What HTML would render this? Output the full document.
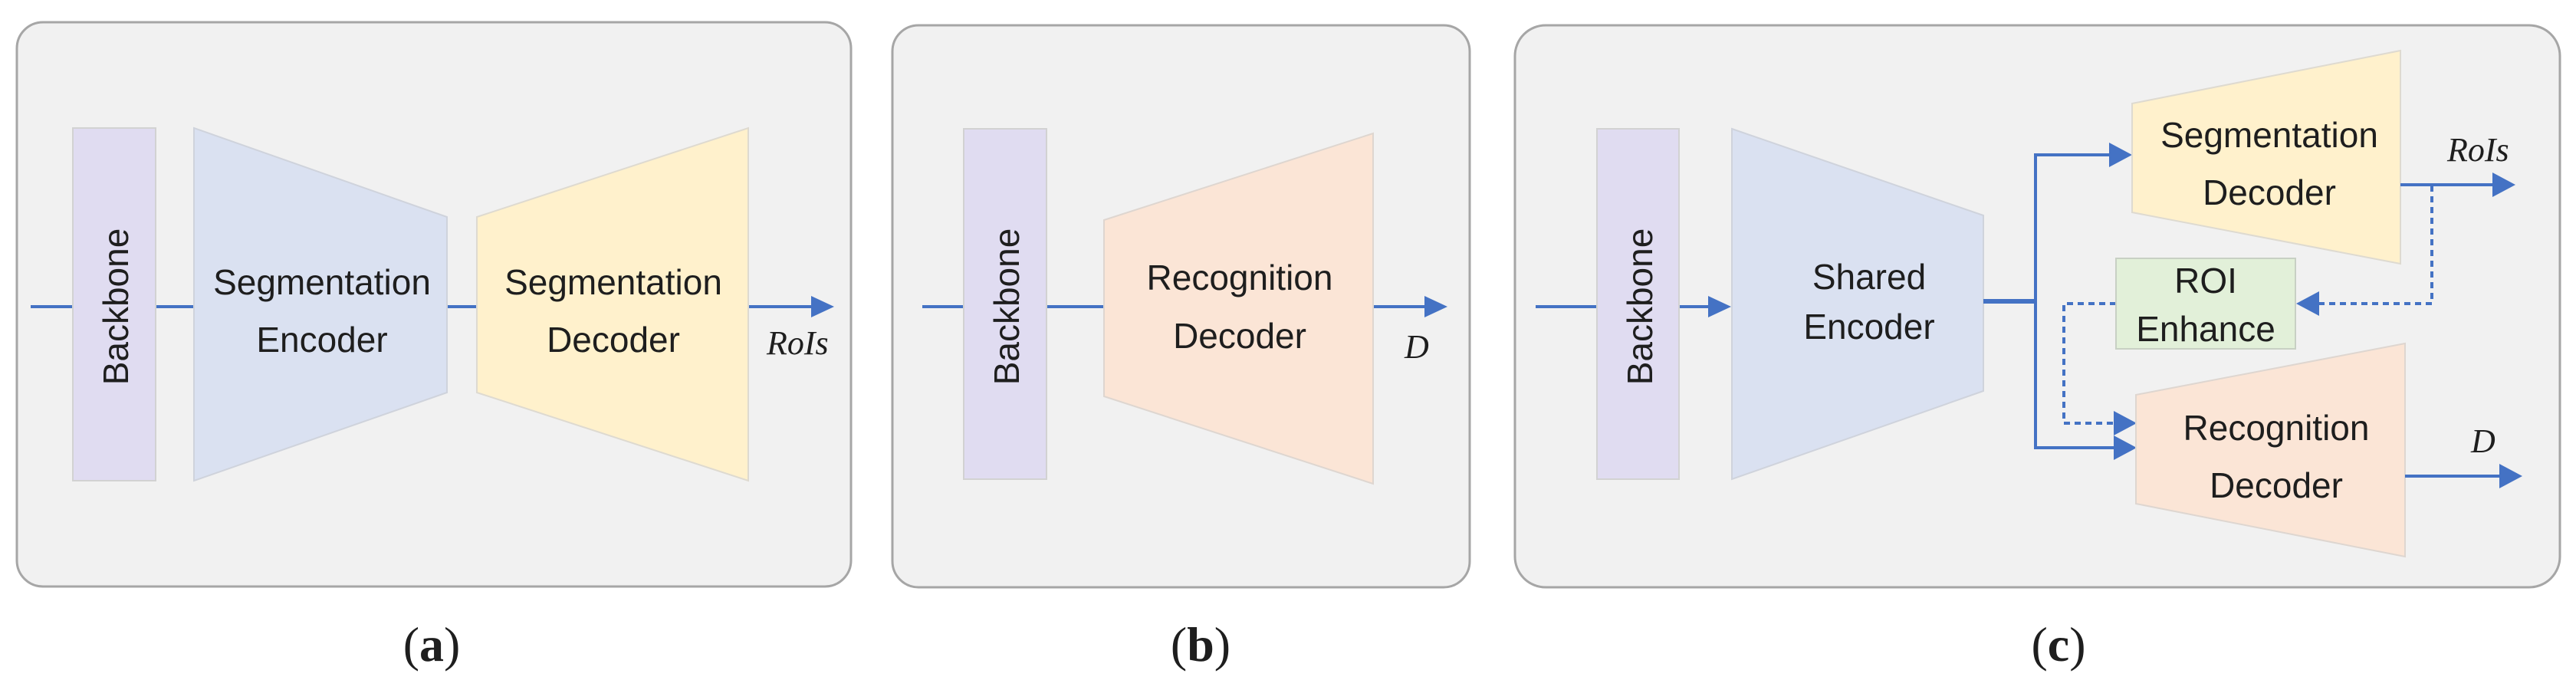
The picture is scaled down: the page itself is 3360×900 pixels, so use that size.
<!DOCTYPE html>
<html><head><style>
html,body{margin:0;padding:0;background:#fff;}
svg{display:block;}
text{font-family:"Liberation Sans",sans-serif;fill:#1e1e1e;}
.t{font-size:46px;text-anchor:middle;}
.m{font-family:"Liberation Serif",serif;font-style:italic;font-size:44px;}
.cap{font-family:"Liberation Serif",serif;font-size:64px;text-anchor:middle;}
</style></head><body>
<svg width="3360" height="900" viewBox="0 0 3360 900" xmlns="http://www.w3.org/2000/svg">
<!-- panels -->
<rect x="22" y="29" width="1088" height="736" rx="34" fill="#f1f1f1" stroke="#a6a6a6" stroke-width="3"/>
<rect x="1164" y="33" width="753" height="733" rx="34" fill="#f1f1f1" stroke="#a6a6a6" stroke-width="3"/>
<rect x="1976" y="33" width="1363" height="733" rx="40" fill="#f1f1f1" stroke="#a6a6a6" stroke-width="3"/>

<!-- Panel a -->
<line x1="40" y1="400" x2="1060" y2="400" stroke="#4472c4" stroke-width="4"/>
<polygon points="1088,400 1058,386 1058,414" fill="#4472c4"/>
<rect x="95" y="167" width="108" height="460" fill="#e0dcf1" stroke="#d2d2d2" stroke-width="2"/>
<text class="t" transform="translate(167,400) rotate(-90)">Backbone</text>
<polygon points="253,167 583,283 583,512 253,627" fill="#dae1f1" stroke="#cfd3dc" stroke-width="2"/>
<text class="t" x="420" y="384">Segmentation</text>
<text class="t" x="420" y="459">Encoder</text>
<polygon points="622,283 976,167 976,627 622,512" fill="#fff1cc" stroke="#dedad0" stroke-width="2"/>
<text class="t" x="800" y="384">Segmentation</text>
<text class="t" x="800" y="459">Decoder</text>
<text class="m" x="1000" y="462">RoIs</text>
<text class="cap" x="563" y="862">(<tspan font-weight="bold">a</tspan>)</text>

<!-- Panel b -->
<line x1="1203" y1="400" x2="1860" y2="400" stroke="#4472c4" stroke-width="4"/>
<polygon points="1888,400 1858,386 1858,414" fill="#4472c4"/>
<rect x="1257" y="168" width="108" height="457" fill="#e0dcf1" stroke="#d2d2d2" stroke-width="2"/>
<text class="t" transform="translate(1329,400) rotate(-90)">Backbone</text>
<polygon points="1440,287 1791,174 1791,631 1440,517" fill="#fbe5d6" stroke="#ded6d0" stroke-width="2"/>
<text class="t" x="1617" y="378">Recognition</text>
<text class="t" x="1617" y="454">Decoder</text>
<text class="m" x="1832" y="467">D</text>
<text class="cap" x="1566" y="862">(<tspan font-weight="bold">b</tspan>)</text>

<!-- Panel c -->
<line x1="2003" y1="400" x2="2235" y2="400" stroke="#4472c4" stroke-width="4"/>
<polygon points="2258,400 2228,386 2228,414" fill="#4472c4"/>
<rect x="2083" y="168" width="107" height="457" fill="#e0dcf1" stroke="#d2d2d2" stroke-width="2"/>
<text class="t" transform="translate(2155,400) rotate(-90)">Backbone</text>
<polygon points="2259,168 2587,281 2587,510 2259,625" fill="#dae1f1" stroke="#cfd3dc" stroke-width="2"/>
<text class="t" x="2438" y="377">Shared</text>
<text class="t" x="2438" y="442">Encoder</text>
<polyline points="2587,393 2655,393" fill="none" stroke="#4472c4" stroke-width="6"/>
<polyline points="2758,202 2655,202 2655,584 2765,584" fill="none" stroke="#4472c4" stroke-width="4"/>
<polygon points="2781,202 2751,186 2751,218" fill="#4472c4"/>
<polygon points="2787,584 2757,568 2757,600" fill="#4472c4"/>
<polyline points="3131,241 3172,241 3172,396 3018,396" fill="none" stroke="#4472c4" stroke-width="4" stroke-dasharray="8,6"/>
<polygon points="2995,396 3025,380 3025,412" fill="#4472c4"/>
<polyline points="2760,396 2692,396 2692,552 2765,552" fill="none" stroke="#4472c4" stroke-width="4" stroke-dasharray="8,6"/>
<polygon points="2787,552 2757,536 2757,568" fill="#4472c4"/>
<polygon points="2781,135 3131,66 3131,344 2781,277" fill="#fff1cc" stroke="#dedad0" stroke-width="2"/>
<text class="t" x="2960" y="192">Segmentation</text>
<text class="t" x="2960" y="267">Decoder</text>
<rect x="2760" y="337" width="234" height="118" fill="#e2f0d9" stroke="#c8d0c4" stroke-width="2"/>
<text class="t" x="2877" y="382">ROI</text>
<text class="t" x="2877" y="445">Enhance</text>
<polygon points="2786,515 3137,448 3137,726 2786,657" fill="#fbe5d6" stroke="#ded6d0" stroke-width="2"/>
<text class="t" x="2969" y="574">Recognition</text>
<text class="t" x="2969" y="649">Decoder</text>
<line x1="3131" y1="241" x2="3258" y2="241" stroke="#4472c4" stroke-width="4"/>
<polygon points="3281,241 3251,225 3251,257" fill="#4472c4"/>
<text class="m" x="3192" y="210">RoIs</text>
<line x1="3137" y1="621" x2="3266" y2="621" stroke="#4472c4" stroke-width="4"/>
<polygon points="3290,621 3260,605 3260,637" fill="#4472c4"/>
<text class="m" x="3223" y="590">D</text>
<text class="cap" x="2685" y="862">(<tspan font-weight="bold">c</tspan>)</text>
</svg>
</body></html>
